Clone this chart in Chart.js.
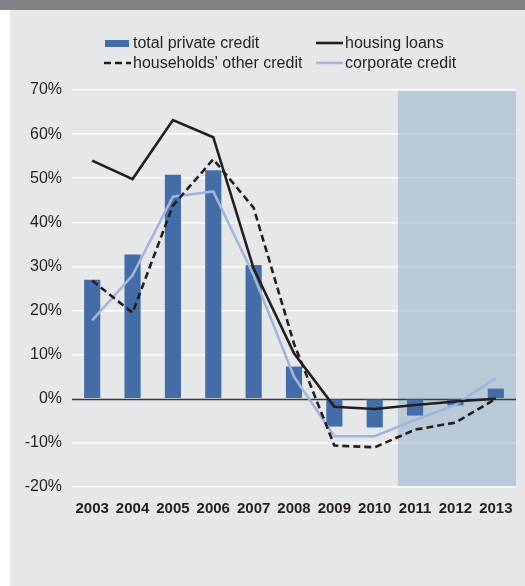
<!DOCTYPE html>
<html>
<head>
<meta charset="utf-8">
<script src="https://cdn.jsdelivr.net/npm/chart.js@4/dist/chart.umd.min.js"></script>
<style>
  body { margin: 0; background: #fff; font-family: "Liberation Sans", Arial, sans-serif; }
  #band { position: absolute; left: 0; top: 0; width: 525px; height: 10px; background: #808285; }
  #panel { position: absolute; left: 10px; top: 10px; width: 515px; height: 576px; background: #e6e7e8; }
  #report { position: absolute; left: 0; top: 0; }
  #legend { position: absolute; left: 104px; top: 33px; display: grid; grid-template-columns: 212px auto; row-gap: 1px; }
  .item { display: flex; align-items: center; height: 19px; font-size: 16px; color: #231f20; white-space: nowrap; }
  .item svg { margin-right: 2px; }
</style>
</head>
<body>
<div id="band"></div>
<div id="panel"></div>
<canvas id="report" width="525" height="586"></canvas>
<div id="legend"></div>
<script>
const years = ['2003', '2004', '2005', '2006', '2007', '2008', '2009', '2010', '2011', '2012', '2013'];
const totalPrivate = [27, 32.7, 50.8, 51.8, 30.3, 7.3, -6.3, -6.5, -3.8, -1.5, 2.3];
const housingLoans = [54, 49.8, 63.2, 59.3, 29.5, 10.3, -1.8, -2.3, -1.4, -0.6, 0];
const householdsOther = [26.8, 19.5, 43.8, 54.3, 43.3, 12.5, -10.6, -11, -7, -5.4, 0];
const corporate = [17.8, 28, 45.8, 47, 28, 5, -8.5, -8.5, -4.8, -1.4, 4.7];
const yTicks = [-20, -10, 0, 10, 20, 30, 40, 50, 60, 70];
const shadeFrom = '2011';

// shaded forecast area + zero line, drawn over the grid but under the data
const shade = {
    id: 'shade',
    beforeDatasetsDraw(chart) {
        const { ctx, chartArea, scales } = chart;
        const i = years.indexOf(shadeFrom);
        const left = (scales.x.getPixelForValue(i - 1) + scales.x.getPixelForValue(i)) / 2 + 3;
        const top = scales.y.getPixelForValue(yTicks[yTicks.length - 1]) + 1;
        const bottom = scales.y.getPixelForValue(yTicks[0]) - 1;
        ctx.save();
        ctx.fillStyle = 'rgba(155,181,205,0.6)';
        ctx.fillRect(left, top, chartArea.right - left, bottom - top);
        const y0 = Math.round(scales.y.getPixelForValue(0)) + 0.5;
        ctx.strokeStyle = '#3a3a3a';
        ctx.lineWidth = 1.5;
        ctx.beginPath();
        ctx.moveTo(chartArea.left, y0);
        ctx.lineTo(chartArea.right, y0);
        ctx.stroke();
        ctx.restore();
    }
};

const chart = new Chart(document.getElementById('report'), {
    type: 'bar',
    data: {
        labels: years,
        datasets: [{
            type: 'bar',
            label: 'total private credit',
            data: totalPrivate,
            backgroundColor: '#446ca6',
            categoryPercentage: 1,
            barPercentage: 0.4,
            order: 5
        }, {
            type: 'line',
            label: 'housing loans',
            data: housingLoans,
            borderColor: '#231f20',
            borderWidth: 2.6,
            pointRadius: 0,
            tension: 0,
            order: 1
        }, {
            type: 'line',
            label: "households' other credit",
            data: householdsOther,
            borderColor: '#231f20',
            borderWidth: 2.6,
            borderDash: [7, 4],
            pointRadius: 0,
            tension: 0,
            order: 2
        }, {
            type: 'line',
            label: 'corporate credit',
            data: corporate,
            borderColor: '#a3b5dc',
            borderWidth: 2.6,
            pointRadius: 0,
            tension: 0,
            order: 3
        }]
    },
    options: {
        responsive: false,
        animation: false,
        layout: { padding: { left: 0, right: 9, top: 90, bottom: 59 } },
        plugins: { legend: { display: false }, tooltip: { enabled: false } },
        scales: {
            x: {
                grid: { display: false },
                border: { display: false },
                ticks: {
                    color: '#231f20',
                    padding: 5,
                    maxRotation: 0,
                    font: { family: '"Liberation Sans", Arial, sans-serif', size: 15, weight: 'bold' }
                },
                afterFit(scale) { scale.height = 40; }
            },
            y: {
                min: yTicks[0],
                max: yTicks[yTicks.length - 1],
                afterBuildTicks(scale) { scale.ticks = yTicks.map(v => ({ value: v })); },
                grid: {
                    drawTicks: false,
                    lineWidth: 1.5,
                    color: c => c.tick && c.tick.value === 0 ? 'rgba(0,0,0,0)' : '#ffffff'
                },
                border: { display: false },
                ticks: {
                    color: '#231f20',
                    padding: 10,
                    font: { family: '"Liberation Sans", Arial, sans-serif', size: 16 },
                    callback: v => v + '%'
                },
                afterFit(scale) { scale.width = 72; }
            }
        }
    },
    plugins: [shade]
});

// html legend, two columns like the original
const legend = document.getElementById('legend');
const order = [0, 1, 2, 3];
order.forEach(idx => {
    const ds = chart.data.datasets[idx];
    let mark;
    if (ds.type === 'bar') {
        mark = '<svg width="27" height="10"><rect x="1" y="2" width="24" height="7" fill="' + ds.backgroundColor + '"/></svg>';
    } else {
        const dash = ds.borderDash ? ' stroke-dasharray="' + ds.borderDash.join(',') + '"' : '';
        mark = '<svg width="27" height="10"><line x1="0" y1="5" x2="27" y2="5" stroke="' + ds.borderColor + '" stroke-width="' + ds.borderWidth + '"' + dash + '/></svg>';
    }
    const el = document.createElement('div');
    el.className = 'item';
    el.innerHTML = mark + '<span>' + ds.label + '</span>';
    legend.appendChild(el);
});
</script>
</body>
</html>
